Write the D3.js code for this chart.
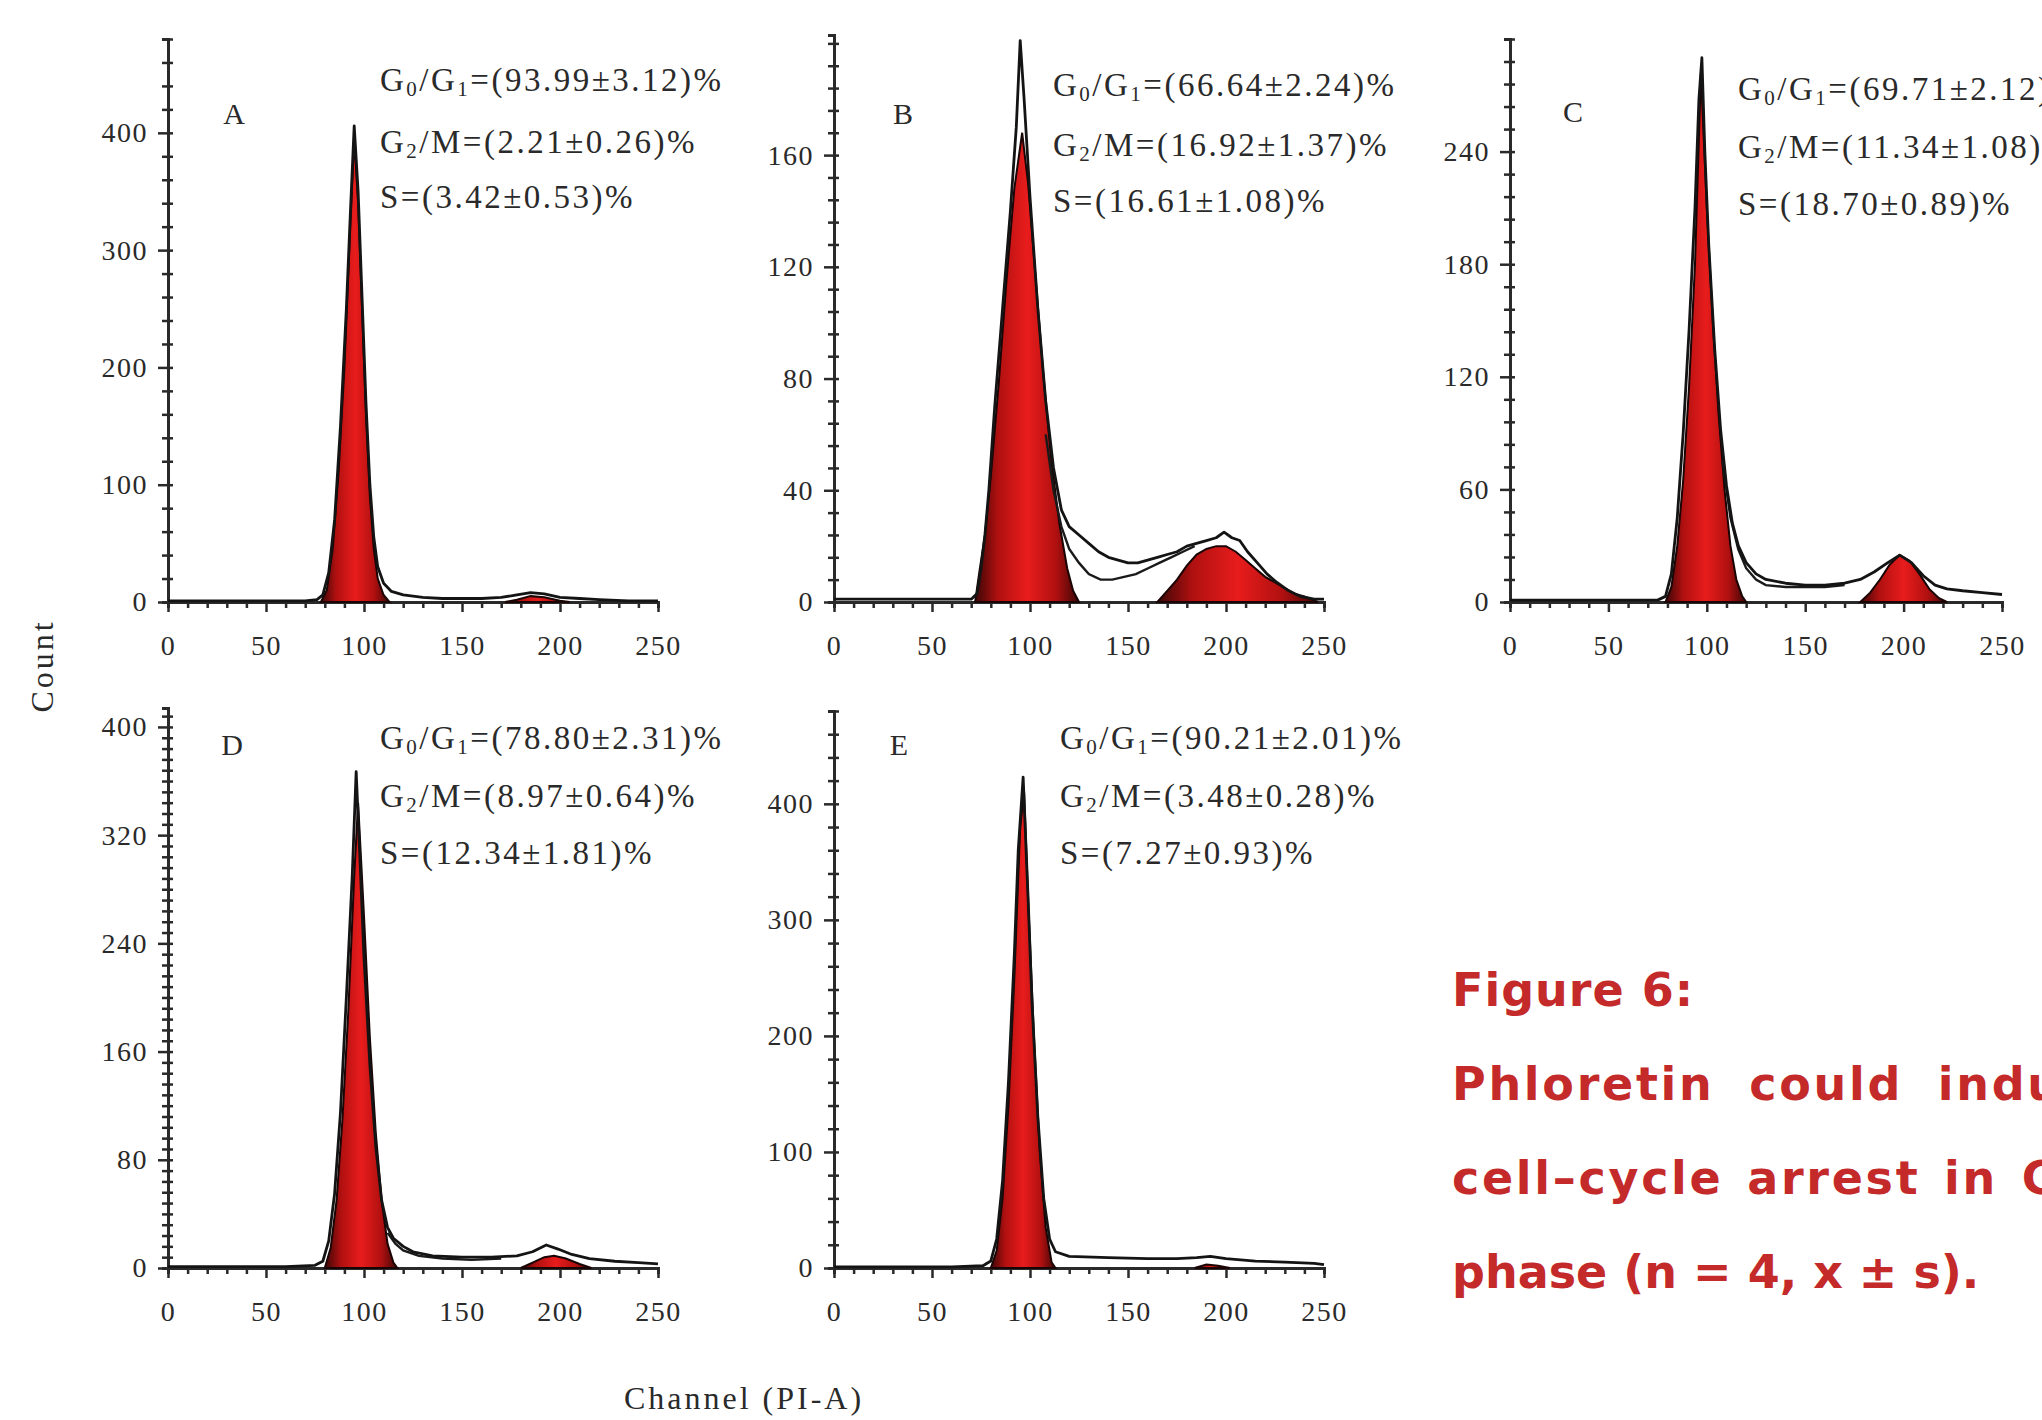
<!DOCTYPE html>
<html>
<head>
<meta charset="utf-8">
<script src="https://cdn.jsdelivr.net/npm/d3@7"></script>
<style>
  body { margin: 0; background: #ffffff; }
  svg { display: block; }
</style>
</head>
<body>
<svg id="fig" width="2042" height="1420"></svg>
<script>
// ---- Data: DNA content histograms (channel, count) ----
const channelTicks = [0, 50, 100, 150, 200, 250];

// A
const histA = [[0,1],[20,1],[40,1],[60,1],[70,1],[76,2],[79,6],[82,25],[85,70],[88,150],[91,250],[93,330],[95,406],[97,350],[99,260],[101,170],[103,100],[105,55],[107,30],[110,16],[114,9],[120,6],[130,4],[140,3],[150,3],[160,3],[170,4],[178,6],[185,8],[192,7],[200,4],[210,3],[220,2],[235,1],[250,1]];
const g1FitA = [[78,0],[81,10],[84,45],[87,110],[90,200],[93,320],[95,395],[97,340],[99,250],[101,160],[103,90],[105,45],[107,20],[110,6],[113,0]];
const g2FitA = [[172,0],[178,2],[185,5],[192,4],[200,1],[205,0]];
const yTicksA = [0, 100, 200, 300, 400];
const statsA = ["93.99±3.12", "2.21±0.26", "3.42±0.53"];

// B
const histB = [[0,1],[20,1],[40,1],[60,1],[70,1],[73,3],[75,12],[77,24],[79,40],[82,70],[86,105],[90,140],[93,170],[95,201],[97,180],[100,145],[104,105],[108,72],[112,48],[116,33],[120,27],[125,24],[130,21],[135,18],[140,16],[145,15],[150,14],[155,14],[160,15],[165,16],[170,17],[175,18],[180,20],[185,21],[190,22],[195,23],[199,25],[203,23],[207,22],[211,18],[216,14],[221,10],[226,7],[232,4],[238,2],[245,1],[250,1]];
const modelB = [[108,60],[112,40],[116,27],[120,19],[125,14],[130,10],[136,8],[142,8],[148,9],[154,10],[160,12],[166,14],[172,16],[178,18],[184,20]];
const g1FitB = [[72,0],[74,10],[77,24],[80,45],[84,78],[88,115],[92,148],[96,168],[99,150],[103,115],[107,80],[111,50],[115,28],[119,12],[122,4],[125,0]];
const g2FitB = [[165,0],[170,4],[175,8],[180,13],[185,17],[190,19],[195,20],[200,20],[205,18],[210,15],[215,12],[220,9],[225,7],[230,5],[235,3],[240,2],[247,0]];
const yTicksB = [0, 40, 80, 120, 160];
const statsB = ["66.64±2.24", "16.92±1.37", "16.61±1.08"];

// C
const histC = [[0,1],[20,1],[40,1],[60,1],[75,1],[79,3],[82,15],[85,45],[88,90],[91,145],[94,210],[96,268],[97.5,290],[99,240],[101,190],[104,135],[107,92],[110,62],[113,42],[116,30],[120,21],[125,15],[130,12],[140,10],[150,9],[160,9],[170,10],[178,12],[185,16],[192,21],[198,25],[204,21],[210,14],[216,9],[222,7],[230,6],[240,5],[250,4]];
const modelC = [[108,75],[112,45],[116,28],[120,18],[125,12],[130,9],[140,8],[150,8],[160,8],[170,9]];
const g1FitC = [[79,0],[82,8],[85,30],[88,65],[91,115],[94,180],[97,282],[100,210],[103,150],[106,100],[109,60],[112,30],[115,12],[118,3],[120,0]];
const g2FitC = [[178,0],[183,5],[188,12],[193,20],[198,25],[203,22],[208,15],[213,7],[218,2],[222,0]];
const yTicksC = [0, 60, 120, 180, 240];
const statsC = ["69.71±2.12", "11.34±1.08", "18.70±0.89"];

// D
const histD = [[0,1],[20,1],[40,1],[60,1],[75,2],[79,5],[82,20],[85,55],[88,115],[91,200],[94,290],[96,367],[98,300],[100,230],[103,150],[106,90],[109,50],[112,30],[115,22],[120,16],[125,12],[135,9],[150,8],[165,8],[178,9],[186,12],[193,17],[199,14],[206,10],[215,7],[228,5],[240,4],[250,3]];
const modelD = [[112,26],[116,18],[120,13],[128,9],[140,7],[155,6],[170,7]];
const g1FitD = [[80,0],[83,15],[86,50],[89,110],[92,190],[95,290],[97,344],[100,260],[103,170],[106,100],[109,50],[112,18],[115,4],[117,0]];
const g2FitD = [[180,0],[186,4],[192,8],[197,9],[203,7],[210,3],[216,0]];
const yTicksD = [0, 80, 160, 240, 320, 400];
const statsD = ["78.80±2.31", "8.97±0.64", "12.34±1.81"];

// E
const histE = [[0,1],[20,1],[40,1],[60,1],[76,2],[80,6],[83,25],[86,75],[89,160],[92,270],[94,360],[96.5,423],[99,320],[101,230],[104,130],[107,60],[110,25],[113,14],[120,10],[140,9],[160,8],[175,8],[185,9],[192,10],[200,8],[215,6],[230,5],[245,4],[250,3]];
const modelE = [];
const g1FitE = [[80,0],[83,15],[86,60],[89,140],[92,250],[95,380],[97,410],[99,320],[102,200],[105,100],[108,35],[111,5],[113,0]];
const g2FitE = [[184,0],[190,3],[196,2],[202,0]];
const yTicksE = [0, 100, 200, 300, 400];
const statsE = ["90.21±2.01", "3.48±0.28", "7.27±0.93"];

const panelNames = ["A", "B", "C", "D", "E"];
const captionLines = ["Figure 6:", "Phloretin could induce", "cell\u2013cycle arrest in G\u2080/G\u2081", "phase (n = 4, x  \u00b1  s)."];

// ---- Panel geometry (pixels) ----
const frames = [
  { x0: 168, x1: 658,  y0: 602,  yTop: 39,  yMax: 480, minor: 20, lx: 234, ly: 117, tx: 380,  ty: [83, 145, 200] },
  { x0: 834, x1: 1324, y0: 602,  yTop: 35,  yMax: 203, minor: 8,  lx: 903, ly: 117, tx: 1053, ty: [88, 148, 204] },
  { x0: 1510, x1: 2002, y0: 602, yTop: 39,  yMax: 300, minor: 12, lx: 1573, ly: 115, tx: 1738, ty: [92, 150, 207] },
  { x0: 168, x1: 658,  y0: 1268, yTop: 708, yMax: 414, minor: 8,  lx: 232, ly: 748, tx: 380,  ty: [741, 799, 856] },
  { x0: 834, x1: 1324, y0: 1268, yTop: 711, yMax: 480, minor: 20, lx: 899, ly: 748, tx: 1060, ty: [741, 799, 856] }
];

const panels = [
  { hist: histA, model: [],     g1: g1FitA, g2: g2FitA, ticks: yTicksA, stats: statsA },
  { hist: histB, model: modelB, g1: g1FitB, g2: g2FitB, ticks: yTicksB, stats: statsB },
  { hist: histC, model: modelC, g1: g1FitC, g2: g2FitC, ticks: yTicksC, stats: statsC },
  { hist: histD, model: modelD, g1: g1FitD, g2: g2FitD, ticks: yTicksD, stats: statsD },
  { hist: histE, model: modelE, g1: g1FitE, g2: g2FitE, ticks: yTicksE, stats: statsE }
];

const svg = d3.select("#fig");
const SERIF = "'Liberation Serif', 'Times New Roman', serif";
const INK = "#2a2a2a";

// red peak shading: dark flanks, bright core
const defs = svg.append("defs");
const grad = defs.append("linearGradient").attr("id", "peakShade")
  .attr("x1", 0).attr("x2", 1).attr("y1", 0).attr("y2", 0);
[[0, "#3c0606"], [0.22, "#b01010"], [0.5, "#e81c1c"], [0.78, "#b01010"], [1, "#3c0606"]]
  .forEach(([o, c]) => grad.append("stop").attr("offset", o).attr("stop-color", c));

svg.append("rect").attr("width", 2042).attr("height", 1420).attr("fill", "#ffffff");

function phaseLabel(g, x, y, lead, sub1, mid, sub2, rest) {
  const t = g.append("text").attr("x", x).attr("y", y)
    .attr("font-family", SERIF).attr("font-size", 33).attr("letter-spacing", 2.5)
    .attr("fill", INK).attr("dominant-baseline", "middle");
  t.append("tspan").text(lead);
  if (sub1) t.append("tspan").attr("font-size", 21).attr("dy", 8).text(sub1);
  if (mid !== null) {
    t.append("tspan").attr("dy", -8).text(mid);
    t.append("tspan").attr("font-size", 21).attr("dy", 8).text(sub2);
  }
  t.append("tspan").attr("dy", sub1 ? -8 : 0).text(rest);
}

panels.forEach((p, i) => {
  const f = frames[i];
  const g = svg.append("g");
  const x = d3.scaleLinear().domain([0, 250]).range([f.x0, f.x1]);
  const y = d3.scaleLinear().domain([0, f.yMax]).range([f.y0, f.yTop]);

  // y axis: labelled majors and minor ticks crossing the spine
  const minorY = d3.range(0, f.yMax + 0.001, f.minor).filter(v => !p.ticks.includes(v));
  const yl = g.append("g").attr("transform", `translate(${f.x0},0)`)
    .call(d3.axisLeft(y).tickValues(p.ticks).tickSizeInner(10).tickSizeOuter(0).tickPadding(10));
  yl.append("g").call(d3.axisLeft(y).tickValues(minorY).tickSize(6).tickFormat(""));
  yl.append("g").call(d3.axisRight(y).tickValues(p.ticks.concat(minorY)).tickSize(5).tickFormat("").tickSizeOuter(0));

  // x axis
  const minorX = d3.range(0, 251, 10).filter(v => !channelTicks.includes(v));
  const xl = g.append("g").attr("transform", `translate(0,${f.y0})`)
    .call(d3.axisBottom(x).tickValues(channelTicks).tickSizeInner(10).tickSizeOuter(0).tickPadding(23));
  xl.append("g").call(d3.axisBottom(x).tickValues(minorX).tickSize(6).tickFormat(""));

  [yl, xl].forEach(a => {
    a.selectAll("path.domain").attr("stroke", INK).attr("stroke-width", 3);
    a.selectAll(".tick line").attr("stroke", INK).attr("stroke-width", 2.5);
    a.selectAll(".tick text").attr("font-family", SERIF).attr("font-size", 28)
      .attr("letter-spacing", 1.5).attr("fill", INK);
  });

  // fitted G0/G1 and G2/M components
  const area = d3.area().x(d => x(d[0])).y0(y(0)).y1(d => y(d[1]));
  [p.g1, p.g2].forEach(comp => {
    g.append("path").datum(comp).attr("d", area)
      .attr("fill", "url(#peakShade)").attr("stroke", "#1a0404").attr("stroke-width", 2);
  });

  // model envelope and measured histogram
  const line = d3.line().x(d => x(d[0])).y(d => y(d[1]));
  if (p.model.length) {
    g.append("path").datum(p.model).attr("d", line)
      .attr("fill", "none").attr("stroke", "#1a1a1a").attr("stroke-width", 2.4);
  }
  g.append("path").datum(p.hist).attr("d", line)
    .attr("fill", "none").attr("stroke", "#141414").attr("stroke-width", 2.8)
    .attr("stroke-linejoin", "round");

  // panel letter
  g.append("text").attr("x", f.lx).attr("y", f.ly)
    .attr("font-family", SERIF).attr("font-size", 30).attr("fill", INK)
    .attr("text-anchor", "middle").attr("dominant-baseline", "middle")
    .text(panelNames[i]);

  // phase percentages
  phaseLabel(g, f.tx, f.ty[0], "G", "0", "/G", "1", `=(${p.stats[0]})%`);
  phaseLabel(g, f.tx, f.ty[1], "G", "2", null, null, `/M=(${p.stats[1]})%`);
  phaseLabel(g, f.tx, f.ty[2], "S=", "", null, null, `(${p.stats[2]})%`);
});

// shared axis titles
svg.append("text").attr("transform", "translate(46,666) rotate(-90)")
  .attr("font-family", SERIF).attr("font-size", 32).attr("letter-spacing", 3)
  .attr("fill", INK).attr("text-anchor", "middle").attr("dominant-baseline", "middle")
  .text("Count");
svg.append("text").attr("x", 744).attr("y", 1402)
  .attr("font-family", SERIF).attr("font-size", 32).attr("letter-spacing", 3)
  .attr("fill", INK).attr("text-anchor", "middle").attr("dominant-baseline", "middle")
  .text("Channel (PI-A)");

// caption, set as a justified block running past the right margin
const capY = [1006, 1100, 1194, 1288];
const capLetter = [1, 2.7, 2.7, 0];
const capWord = [0, 16, 5, 0];
captionLines.forEach((s, i) => {
  svg.append("text").attr("x", 1452).attr("y", capY[i])
    .attr("font-family", "'DejaVu Sans', Verdana, sans-serif").attr("font-weight", "bold")
    .attr("font-size", 46).attr("fill", "#c42a2a")
    .attr("letter-spacing", capLetter[i])
    .attr("word-spacing", capWord[i])
    .text(s);
});
</script>
</body>
</html>
